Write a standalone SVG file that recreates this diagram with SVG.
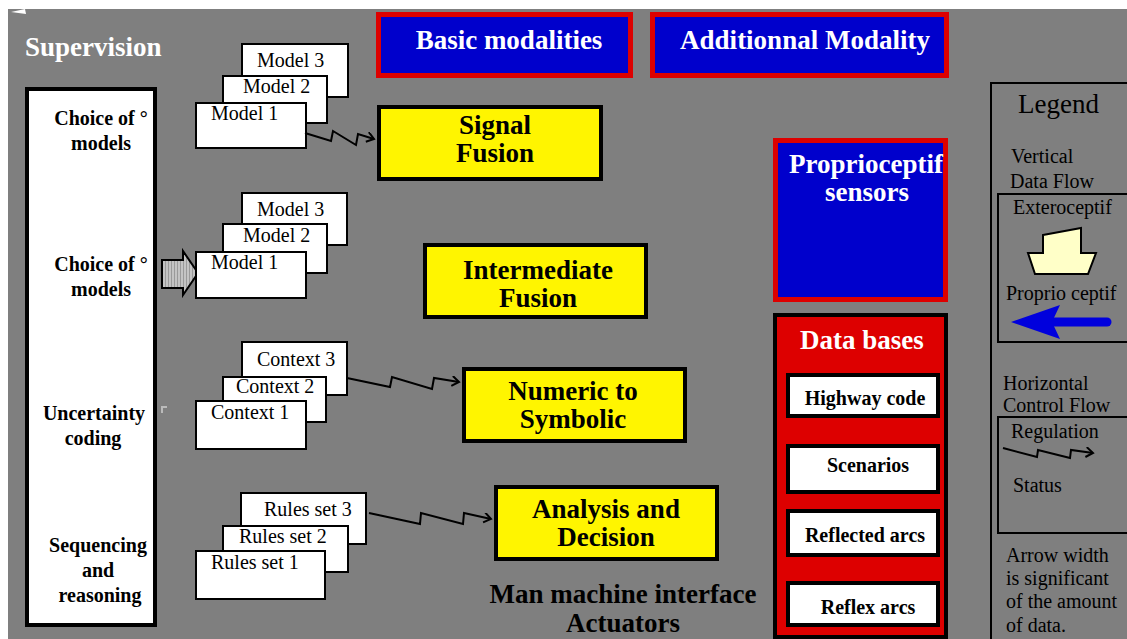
<svg xmlns="http://www.w3.org/2000/svg" width="1127" height="639" viewBox="0 0 1127 639">
<defs>
<style>
.bg{fill:#7f7f7f}
.card{fill:#fff;stroke:#000;stroke-width:2}
.yel{fill:#fff500;stroke:#000;stroke-width:4}
.blu{fill:#0000cc;stroke:#dd0000;stroke-width:5}
.db{fill:#fff;stroke:#000;stroke-width:4}
.t{font-family:"Liberation Serif","Times New Roman",serif;font-size:20px;fill:#000}
.b{font-family:"Liberation Serif","Times New Roman",serif;font-weight:bold;fill:#000}
.w{fill:#fff}
.big{font-size:27px}
.mid{text-anchor:middle}
.zz{fill:none;stroke:#000;stroke-width:2;stroke-linejoin:miter}
</style>
<marker id="ah" markerUnits="userSpaceOnUse" markerWidth="12" markerHeight="12" refX="8" refY="5" orient="auto">
<path d="M1,0 L8,5 L1,10" fill="none" stroke="#000" stroke-width="2"/>
</marker>
<pattern id="stripe" width="3" height="4" patternUnits="userSpaceOnUse">
<rect width="3" height="4" fill="#c4c4c4"/><rect width="1" height="4" fill="#9a9a9a"/>
</pattern>
</defs>
<rect width="1127" height="639" fill="#fff"/>
<rect class="bg" x="8" y="9" width="1119" height="630"/>
<polygon points="11,12 25,9 26,14" fill="#fff"/>
<text class="b w" x="25" y="56" font-size="27">Supervision</text>

<g id="supervision-box">
<rect x="27" y="89" width="128" height="536" fill="#fff" stroke="#000" stroke-width="4"/>
<text class="b mid" font-size="20" x="101" y="125">Choice of °</text>
<text class="b mid" font-size="20" x="101" y="150">models</text>
<text class="b mid" font-size="20" x="101" y="271">Choice of °</text>
<text class="b mid" font-size="20" x="101" y="296">models</text>
<text class="b mid" font-size="20" x="94" y="420">Uncertainty</text>
<text class="b mid" font-size="20" x="93" y="445">coding</text>
<text class="b mid" font-size="20" x="98" y="552">Sequencing</text>
<text class="b mid" font-size="20" x="98" y="577">and</text>
<text class="b mid" font-size="20" x="100" y="602">reasoning</text>
</g>

<g id="models-1">
<rect class="card" x="242" y="44" width="106" height="53"/>
<text class="t" x="257" y="67">Model 3</text>
<rect class="card" x="223" y="76" width="104" height="47"/>
<text class="t" x="243" y="93">Model 2</text>
<rect class="card" x="196" y="103" width="110" height="45"/>
<text class="t" x="211" y="120">Model 1</text>
</g>

<g id="models-2">
<polygon points="162,260 183,260 183,251 198,273 183,295 183,288 162,288" fill="url(#stripe)" stroke="#000" stroke-width="2"/>
<rect class="card" x="242" y="193" width="105" height="52"/>
<text class="t" x="257" y="216">Model 3</text>
<rect class="card" x="223" y="224" width="104" height="49"/>
<text class="t" x="243" y="242">Model 2</text>
<rect class="card" x="196" y="252" width="110" height="46"/>
<text class="t" x="211" y="269">Model 1</text>
</g>

<g id="contexts">
<path d="M162,413 V407 H167" fill="none" stroke="#bbb" stroke-width="2"/>
<rect class="card" x="242" y="342" width="105" height="53"/>
<text class="t" x="257" y="366">Context 3</text>
<rect class="card" x="223" y="377" width="103" height="45"/>
<text class="t" x="236" y="393">Context 2</text>
<rect class="card" x="196" y="401" width="110" height="48"/>
<text class="t" x="211" y="419">Context 1</text>
</g>

<g id="rules">
<rect class="card" x="241" y="493" width="125" height="51"/>
<text class="t" x="264" y="516">Rules set 3</text>
<rect class="card" x="223" y="526" width="125" height="46"/>
<text class="t" x="239" y="543">Rules set 2</text>
<rect class="card" x="196" y="551" width="129" height="48"/>
<text class="t" x="211" y="569">Rules set 1</text>
</g>

<g id="basic-modalities">
<rect class="blu" x="378.5" y="14.5" width="252" height="61"/>
<text class="b w big mid" x="509" y="49">Basic modalities</text>
</g>
<g id="additional-modality">
<rect class="blu" x="652.5" y="14.5" width="294" height="61"/>
<text class="b w big mid" x="805" y="49">Additionnal Modality</text>
</g>

<g id="signal-fusion">
<rect class="yel" x="379" y="107" width="222" height="72"/>
<text class="b big mid" x="495" y="134">Signal</text>
<text class="b big mid" x="495" y="162">Fusion</text>
</g>
<g id="intermediate-fusion">
<rect class="yel" x="425" y="245" width="221" height="72"/>
<text class="b big mid" x="538" y="279">Intermediate</text>
<text class="b big mid" x="538" y="307">Fusion</text>
</g>
<g id="numeric-symbolic">
<rect class="yel" x="464" y="369" width="221" height="72"/>
<text class="b big mid" x="573" y="400">Numeric to</text>
<text class="b big mid" x="573" y="428">Symbolic</text>
</g>
<g id="analysis-decision">
<rect class="yel" x="496" y="487" width="221" height="72"/>
<text class="b big mid" x="606" y="518">Analysis and</text>
<text class="b big mid" x="606" y="546">Decision</text>
</g>
<g id="mmi">
<text class="b mid" font-size="27" x="623" y="603">Man machine interface</text>
<text class="b mid" font-size="27" x="623" y="632">Actuators</text>
</g>

<g id="proprioceptif-sensors">
<rect class="blu" x="775.5" y="140.5" width="170" height="159"/>
<text class="b w big mid" x="866" y="173">Proprioceptif</text>
<text class="b w big mid" x="867" y="201">sensors</text>
</g>

<g id="data-bases">
<rect x="775" y="315" width="171" height="322" fill="#dd0000" stroke="#000" stroke-width="4"/>
<text class="b w big mid" x="862" y="349">Data bases</text>
<rect class="db" x="788" y="375" width="150" height="41"/>
<text class="b mid" font-size="20" x="865" y="405">Highway code</text>
<rect class="db" x="788" y="446" width="150" height="46"/>
<text class="b mid" font-size="20" x="868" y="472">Scenarios</text>
<rect class="db" x="788" y="511" width="150" height="44"/>
<text class="b mid" font-size="20" x="865" y="542">Reflected arcs</text>
<rect class="db" x="788" y="583" width="150" height="42"/>
<text class="b mid" font-size="20" x="868" y="614">Reflex arcs</text>
</g>

<g id="legend">
<rect x="991" y="83" width="150" height="570" fill="none" stroke="#000" stroke-width="2"/>
<text class="t" style="font-size:27px" x="1018" y="113">Legend</text>
<text class="t" x="1011" y="163">Vertical</text>
<text class="t" x="1010" y="188">Data Flow</text>
<rect x="998" y="194" width="140" height="148" fill="none" stroke="#000" stroke-width="2"/>
<text class="t" x="1013" y="214">Exteroceptif</text>
<polygon points="1043,235 1081,228 1081,253 1096,253 1088,274 1035,274 1028,253 1043,253" fill="#ffffc8" stroke="#000" stroke-width="2"/>
<text class="t" x="1006" y="300">Proprio ceptif</text>
<line x1="1050" y1="322" x2="1107" y2="322" stroke="#0000dd" stroke-width="9" stroke-linecap="round"/>
<polygon points="1011,322 1060,305 1052,322 1060,339" fill="#0000dd"/>
<text class="t" x="1003" y="390">Horizontal</text>
<text class="t" x="1003" y="412">Control Flow</text>
<rect x="998" y="417" width="140" height="116" fill="none" stroke="#000" stroke-width="2"/>
<text class="t" x="1011" y="438">Regulation</text>
<path class="zz" d="M1003,448 L1037,457 L1038,450 L1070,458 L1071,450 L1093,453" marker-end="url(#ah)"/>
<text class="t" x="1013" y="492">Status</text>
<text class="t" x="1006" y="562">Arrow width</text>
<text class="t" x="1006" y="585">is significant</text>
<text class="t" x="1006" y="608">of the amount</text>
<text class="t" x="1006" y="632">of data.</text>
</g>

<g id="connectors">
<path class="zz" d="M305,133 L331,141 L333,131 L356,145 L358,134 L374,139" marker-end="url(#ah)"/>
<path class="zz" d="M347,378 L390,387 L392,377 L432,389 L434,378 L459,382" marker-end="url(#ah)"/>
<path class="zz" d="M369,513 L420,524 L421,513 L463,524 L464,513 L491,519" marker-end="url(#ah)"/>
</g>
</svg>
